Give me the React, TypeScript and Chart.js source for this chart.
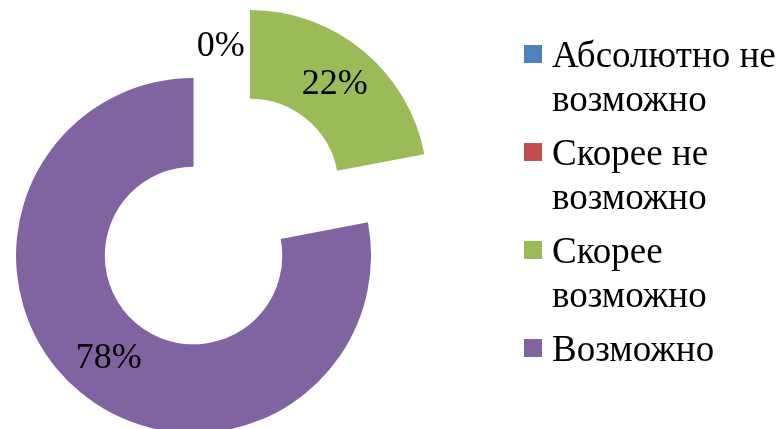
import React, { useEffect, useRef } from 'react';
import { Chart, registerables } from 'chart.js';

Chart.register(...registerables);

// ---- data ----
const categories: string[] = ['Абсолютно не возможно', 'Скорее не возможно', 'Скорее возможно', 'Возможно'];
const values: number[] = [0, 0, 22, 78];
const colors: string[] = ['#4F81BD', '#C0504D', '#9BBB59', '#8064A2'];

// ---- styles / layout ----
const FONT_FAMILY = '"Liberation Serif", "Times New Roman", serif';
const LABEL_FONT_SIZE = 36;
const LEGEND_FONT_SIZE = 37;
const EXPLODE = 44.25; // px each slice is pulled out along its bisector
const LEGEND = { boxX: 524, top: 45, box: 18, textX: 552, lineH: 44, gap: 10, baseline: 22, wrap: 236 };

function wrapText(ctx: CanvasRenderingContext2D, text: string, maxW: number): string[] {
  const words = text.split(' ');
  const lines: string[] = [];
  let cur = '';
  for (const w of words) {
    const test = cur ? cur + ' ' + w : w;
    if (cur && ctx.measureText(test).width > maxW) {
      lines.push(cur);
      cur = w;
    } else {
      cur = test;
    }
  }
  if (cur) lines.push(cur);
  return lines;
}

const explodePlugin = {
  id: 'explodeSlices',
  beforeDatasetDraw(chart: any, args: any) {
    const ctx: CanvasRenderingContext2D = chart.ctx;
    const data = chart.data.datasets[args.index].data as number[];
    args.meta.data.forEach((arc: any, i: number) => {
      const mid = (arc.startAngle + arc.endAngle) / 2;
      const d = data[i] > 0 ? EXPLODE : 0;
      ctx.save();
      ctx.translate(Math.cos(mid) * d, Math.sin(mid) * d);
      arc.draw(ctx, chart.chartArea);
      ctx.restore();
    });
    return false;
  },
};

const labelPlugin = {
  id: 'sliceLabels',
  afterDatasetsDraw(chart: any) {
    const ctx: CanvasRenderingContext2D = chart.ctx;
    const meta = chart.getDatasetMeta(0);
    const data = chart.data.datasets[0].data as number[];
    const total = data.reduce((a, b) => a + b, 0);
    const seen = new Set<string>();
    ctx.save();
    ctx.font = `${LABEL_FONT_SIZE}px ${FONT_FAMILY}`;
    ctx.fillStyle = '#000000';
    ctx.textAlign = 'center';
    ctx.textBaseline = 'middle';
    meta.data.forEach((arc: any, i: number) => {
      const v = data[i];
      const text = Math.round((v / total) * 100) + '%';
      let x: number, y: number;
      if (v > 0) {
        const mid = (arc.startAngle + arc.endAngle) / 2;
        const r = (arc.innerRadius + arc.outerRadius) / 2 + EXPLODE;
        x = arc.x + Math.cos(mid) * r;
        y = arc.y + Math.sin(mid) * r;
      } else {
        const r = arc.outerRadius - 3;
        x = arc.x + Math.cos(arc.startAngle) * r - 1;
        y = arc.y + Math.sin(arc.startAngle) * r;
      }
      const key = `${Math.round(x)}:${Math.round(y)}:${text}`;
      if (seen.has(key)) return;
      seen.add(key);
      ctx.fillText(text, x, y);
    });
    ctx.restore();
  },
};

const legendPlugin = {
  id: 'sideLegend',
  afterDraw(chart: any) {
    const ctx: CanvasRenderingContext2D = chart.ctx;
    const labels = chart.data.labels as string[];
    const bg = chart.data.datasets[0].backgroundColor as string[];
    ctx.save();
    ctx.font = `${LEGEND_FONT_SIZE}px ${FONT_FAMILY}`;
    ctx.textAlign = 'left';
    ctx.textBaseline = 'alphabetic';
    let top = LEGEND.top;
    labels.forEach((label, i) => {
      ctx.fillStyle = bg[i];
      ctx.fillRect(LEGEND.boxX, top, LEGEND.box, LEGEND.box);
      const lines = wrapText(ctx, label, LEGEND.wrap);
      ctx.fillStyle = '#000000';
      lines.forEach((ln, j) => {
        ctx.fillText(ln, LEGEND.textX, top + LEGEND.baseline + j * LEGEND.lineH);
      });
      top += lines.length * LEGEND.lineH + LEGEND.gap;
    });
    ctx.restore();
  },
};

export default function App() {
  const canvasRef = useRef<HTMLCanvasElement | null>(null);

  useEffect(() => {
    const canvas = canvasRef.current;
    if (!canvas) return;
    const chart = new Chart(canvas, {
      type: 'doughnut',
      data: {
        labels: categories,
        datasets: [
          {
            data: values,
            backgroundColor: colors,
            borderWidth: 0,
            hoverOffset: 0,
            offset: 0,
          },
        ],
      },
      options: {
        responsive: false,
        animation: false,
        events: [],
        radius: 177.5,
        cutout: '50%',
        layout: { padding: { top: 14, bottom: 0, left: 0, right: 336.5 } },
        plugins: {
          legend: { display: false },
          tooltip: { enabled: false },
        },
      } as any,
      plugins: [explodePlugin, labelPlugin, legendPlugin],
    });
    return () => chart.destroy();
  }, []);

  return (
    <div style={{ position: 'fixed', left: 0, top: 0, width: 780, height: 429, background: '#ffffff' }}>
      <canvas ref={canvasRef} width={780} height={429} style={{ display: 'block' }} />
    </div>
  );
}
